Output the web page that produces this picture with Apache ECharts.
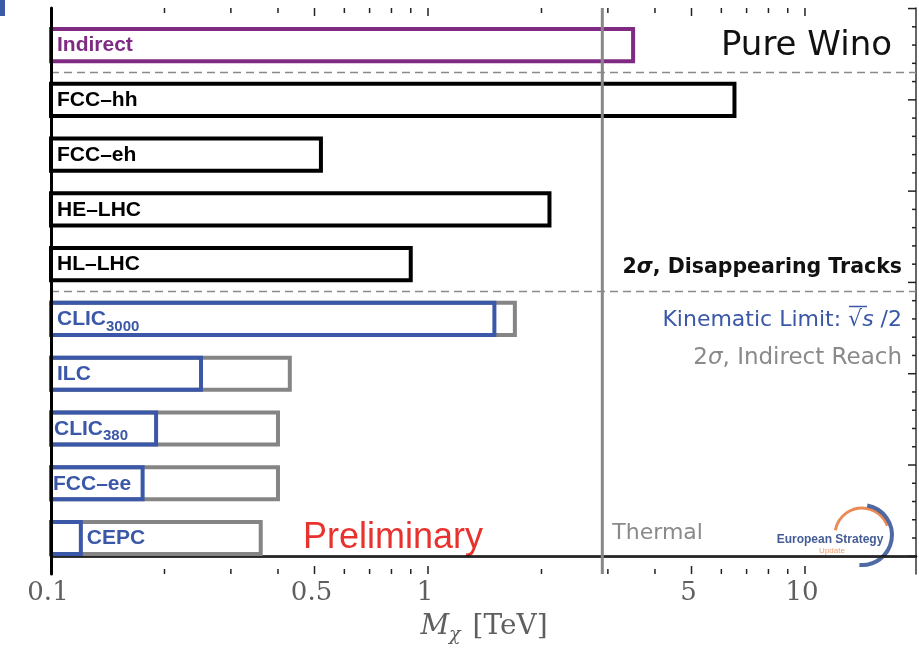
<!DOCTYPE html>
<html>
<head>
<meta charset="utf-8">
<script src="https://cdn.jsdelivr.net/npm/echarts@6/dist/echarts.min.js"></script>
<style>
html,body{margin:0;padding:0;background:#fff}
#main{width:919px;height:656px}
</style>
</head>
<body>
<div id="main"></div>
<script>
// rows, top to bottom
var colliders = ['Indirect', 'FCC–hh', 'FCC–eh', 'HE–LHC', 'HL–LHC', 'CLIC3000', 'ILC', 'CLIC380', 'FCC–ee', 'CEPC'];
// reach in TeV (null = no bar in that row)
var indirectDM   = [3.5, null, null, null, null, null, null, null, null, null];
var trackReach   = [null, 6.5, 0.52, 2.1, 0.9, null, null, null, null, null];
var indirectReach = [null, null, null, null, null, 1.7, 0.43, 0.40, 0.40, 0.36];
var kinematicLimit = [null, null, null, null, null, 1.5, 0.25, 0.19, 0.175, 0.12];
var thermalMass = [2.9];
// axis ticks
var xMajorTicks = [0.1, 0.5, 1, 5, 10];
var xMajorLabels = ['0.1', '0.5', '1', '5', '10'];
var xMinorTicks = [0.2, 0.3, 0.4, 0.6, 0.7, 0.8, 0.9, 2, 3, 4, 6, 7, 8, 9];
var yTicks = [0, 1, 2, 3, 4, 5, 6, 7, 8, 9, 10, 11, 12, 13, 14, 15, 16, 17, 18, 19, 20, 21, 22, 23, 24, 25, 26, 27, 28, 29, 30];
var separators = [26.5, 14.5];

var X_MIN = 0.1, X_MAX = 19.7, Y_MIN = -0.97, Y_MAX = 30.03;
var PURPLE = '#7f2b84', BLUE = '#3b58a8', GREY = '#858585', BLACK = '#000';

function rowPos(i) { return 28 - 3 * i; }

function toData(arr) {
  var out = [];
  for (var i = 0; i < arr.length; i++) {
    if (arr[i] != null) out.push([arr[i], rowPos(i), i]);
  }
  return out;
}

function barRender(color) {
  return function (params, api) {
    var u = api.value(1);
    var p0 = api.coord([X_MIN, u + 0.88]);
    var p1 = api.coord([api.value(0), u - 0.88]);
    return {
      type: 'rect',
      shape: {x: p0[0], y: p0[1], width: p1[0] - p0[0], height: p1[1] - p0[1]},
      style: {fill: 'none', stroke: color, lineWidth: 4}
    };
  };
}

function labelColor(i) {
  if (indirectDM[i] != null) return PURPLE;
  if (trackReach[i] != null) return BLACK;
  return BLUE;
}

var labelData = [];
for (var i = 0; i < colliders.length; i++) labelData.push([X_MIN, rowPos(i), i]);

var chart = echarts.init(document.getElementById('main'));

var option = {
  animation: false,
  grid: {left: 51, right: 3, top: 8, bottom: 82, outerBoundsMode: 'none'},
  xAxis: [{
    type: 'log', logBase: 10, min: X_MIN, max: X_MAX,
    axisLine: {lineStyle: {color: '#000', width: 2.5}},
    axisTick: {show: false}, axisLabel: {show: false}, splitLine: {show: false}
  }, {
    type: 'log', logBase: 10, min: X_MIN, max: X_MAX, position: 'top',
    axisLine: {lineStyle: {color: '#333', width: 1.5}},
    axisTick: {show: false}, axisLabel: {show: false}, splitLine: {show: false}
  }],
  yAxis: [{
    type: 'value', min: Y_MIN, max: Y_MAX, z: 5,
    axisLine: {show: true, lineStyle: {color: '#000', width: 3}},
    axisTick: {show: false}, axisLabel: {show: false}, splitLine: {show: false}
  }, {
    type: 'value', min: Y_MIN, max: Y_MAX, position: 'right',
    axisLine: {show: true, lineStyle: {color: '#333', width: 1.5}},
    axisTick: {show: false}, axisLabel: {show: false}, splitLine: {show: false}
  }],
  series: [
    {
      name: 'separators', type: 'custom', encode: {x: 0, y: 1},
      data: separators.map(function (s) { return [X_MIN, s]; }),
      renderItem: function (params, api) {
        var a = api.coord([X_MIN, api.value(1)]);
        var b = api.coord([X_MAX, api.value(1)]);
        return {type: 'line', shape: {x1: a[0], y1: a[1], x2: b[0], y2: b[1]},
          style: {stroke: '#8a8a8a', lineWidth: 1.5, lineDash: [8, 5]}};
      }
    },
    {name: 'indirect reach', type: 'custom', encode: {x: 0, y: 1}, data: toData(indirectReach), renderItem: barRender(GREY)},
    {name: 'kinematic limit', type: 'custom', encode: {x: 0, y: 1}, data: toData(kinematicLimit), renderItem: barRender(BLUE)},
    {name: 'disappearing tracks', type: 'custom', encode: {x: 0, y: 1}, data: toData(trackReach), renderItem: barRender(BLACK)},
    {name: 'indirect', type: 'custom', encode: {x: 0, y: 1}, data: toData(indirectDM), renderItem: barRender(PURPLE)},
    {
      name: 'labels', type: 'custom', encode: {x: 0, y: 1}, data: labelData,
      renderItem: function (params, api) {
        var i = api.value(2);
        var name = colliders[i];
        var p = api.coord([X_MIN, api.value(1)]);
        var x = p[0] + 6;
        if (name === 'FCC–ee') x = p[0] + 2;
        if (name === 'CLIC380') x = p[0] + 3;
        if (name === 'CEPC') x = api.coord([kinematicLimit[i], 0])[0] + 6;
        var m = name.match(/^(CLIC)(\d+)$/);
        var text = m ? '{m|' + m[1] + '}{s|' + m[2] + '}' : '{m|' + name + '}';
        var col = labelColor(i);
        return {
          type: 'text', x: x, y: p[1] + 1,
          style: {
            text: text, align: 'left', verticalAlign: 'middle',
            rich: {
              m: {fontSize: 21, fontWeight: 'bold', fontFamily: 'Liberation Sans', fill: col, lineHeight: 22, verticalAlign: 'top'},
              s: {fontSize: 15, fontWeight: 'bold', fontFamily: 'Liberation Sans', fill: col, lineHeight: 16, verticalAlign: 'top', padding: [10, 0, 0, 0]}
            }
          }
        };
      }
    },
    {
      name: 'thermal', type: 'custom', encode: {x: 0, y: 1},
      data: thermalMass.map(function (v) { return [v, Y_MIN]; }),
      renderItem: function (params, api) {
        var a = api.coord([api.value(0), Y_MIN]);
        var b = api.coord([api.value(0), Y_MAX]);
        return {type: 'group', children: [
          {type: 'line', shape: {x1: a[0], y1: a[1], x2: b[0], y2: b[1]}, style: {stroke: '#888', lineWidth: 3}},
          {type: 'text', x: a[0] + 10, y: api.coord([0.1, 1])[1] - 5,
            style: {text: 'Thermal', font: '22px "DejaVu Sans"', fill: '#8a8a8a', align: 'left', verticalAlign: 'middle'}}
        ]};
      }
    },
    {
      name: 'x ticks', type: 'custom', encode: {x: 0, y: 1},
      data: xMajorTicks.map(function (v, k) { return [v, Y_MIN, 1, k]; })
        .concat(xMinorTicks.map(function (v) { return [v, Y_MIN, 0, -1]; })),
      renderItem: function (params, api) {
        var v = api.value(0), major = api.value(2) === 1;
        var a = api.coord([v, Y_MIN]);
        var b = api.coord([v, Y_MAX]);
        var len = major ? 8 : 5;
        var kids = [];
        if (v > X_MIN) {
          kids.push({type: 'line', shape: {x1: a[0], y1: a[1], x2: a[0], y2: a[1] - len}, style: {stroke: '#222', lineWidth: 1.5}});
          kids.push({type: 'line', shape: {x1: b[0], y1: b[1], x2: b[0], y2: b[1] + len}, style: {stroke: '#222', lineWidth: 1.5}});
        }
        if (major) {
          kids.push({type: 'text', x: a[0] - 3, y: a[1] + 19,
            style: {text: xMajorLabels[api.value(3)], font: '26px "DejaVu Serif"', fill: '#5f5f5f', align: 'center', verticalAlign: 'middle'}});
        }
        return {type: 'group', children: kids};
      }
    },
    {
      name: 'y ticks', type: 'custom', encode: {x: 0, y: 1},
      data: yTicks.map(function (t) { return [X_MAX, t]; }),
      renderItem: function (params, api) {
        var t = api.value(1);
        var a = api.coord([X_MAX, t]);
        var len = t % 5 === 0 ? 8 : 4;
        return {type: 'line', shape: {x1: a[0], y1: a[1], x2: a[0] - len, y2: a[1]}, style: {stroke: '#222', lineWidth: 1.5}};
      }
    }
  ],
  graphic: [
    {type: 'rect', left: 0, top: 0, shape: {width: 5, height: 16}, style: {fill: '#3a5aa8'}},
    {type: 'text', x: 892, y: 46, style: {text: 'Pure Wino', font: '34px "DejaVu Sans"', fill: '#111', align: 'right', verticalAlign: 'middle'}},
    {type: 'text', x: 902, y: 268, style: {
      text: '2{i|σ}, Disappearing Tracks', font: 'bold 20.5px "DejaVu Sans"', fill: '#111', align: 'right', verticalAlign: 'middle',
      rich: {i: {fontStyle: 'italic', fontWeight: 'bold', fontSize: 20.5, fontFamily: 'DejaVu Sans', fill: '#111'}}}},
    {type: 'text', x: 902, y: 320, style: {
      text: 'Kinematic Limit: √{i|s} /2', font: '22px "DejaVu Sans"', fill: BLUE, align: 'right', verticalAlign: 'middle',
      rich: {i: {fontStyle: 'italic', fontSize: 22, fontFamily: 'DejaVu Sans', fill: BLUE}}}},
    {type: 'line', shape: {x1: 849, y1: 306.5, x2: 867, y2: 306.5}, style: {stroke: BLUE, lineWidth: 1.5}},
    {type: 'text', x: 902, y: 358, style: {
      text: '2{i|σ}, Indirect Reach', font: '23px "DejaVu Sans"', fill: '#8a8a8a', align: 'right', verticalAlign: 'middle',
      rich: {i: {fontStyle: 'italic', fontSize: 23, fontFamily: 'DejaVu Sans', fill: '#8a8a8a'}}}},
    {type: 'text', x: 303, y: 538, style: {text: 'Preliminary', font: '36px "Liberation Sans"', fill: '#e8322e', align: 'left', verticalAlign: 'middle'}},
    {type: 'text', x: 484, y: 627, style: {
      text: '{i|M}{s|χ} [TeV]', font: '28px "DejaVu Serif"', fill: '#5f5f5f', align: 'center', verticalAlign: 'middle',
      rich: {
        i: {fontStyle: 'italic', fontSize: 28, fontFamily: 'DejaVu Serif', fill: '#5f5f5f', verticalAlign: 'top', lineHeight: 28},
        s: {fontStyle: 'italic', fontSize: 19, fontFamily: 'DejaVu Serif', fill: '#5f5f5f', verticalAlign: 'top', lineHeight: 19, padding: [13, 3, 0, 0]}
      }}},
    {type: 'arc', shape: {cx: 862, cy: 535, r: 27, startAngle: 190 * Math.PI / 180, endAngle: 340 * Math.PI / 180, clockwise: true},
      style: {fill: 'none', stroke: '#ea8b55', lineWidth: 3}},
    {type: 'arc', shape: {cx: 862, cy: 535, r: 30, startAngle: -80 * Math.PI / 180, endAngle: 95 * Math.PI / 180, clockwise: true},
      style: {fill: 'none', stroke: '#2f4f93', lineWidth: 4, opacity: 0.85}},
    {type: 'text', x: 830, y: 540, style: {text: 'European Strategy', font: 'bold 12px "Liberation Sans"', fill: '#445c96', align: 'center', verticalAlign: 'middle'}},
    {type: 'text', x: 832, y: 551, style: {text: 'Update', font: '8px "Liberation Sans"', fill: '#ee9a6a', align: 'center', verticalAlign: 'middle'}}
  ]
};
chart.setOption(option);
</script>
</body>
</html>
